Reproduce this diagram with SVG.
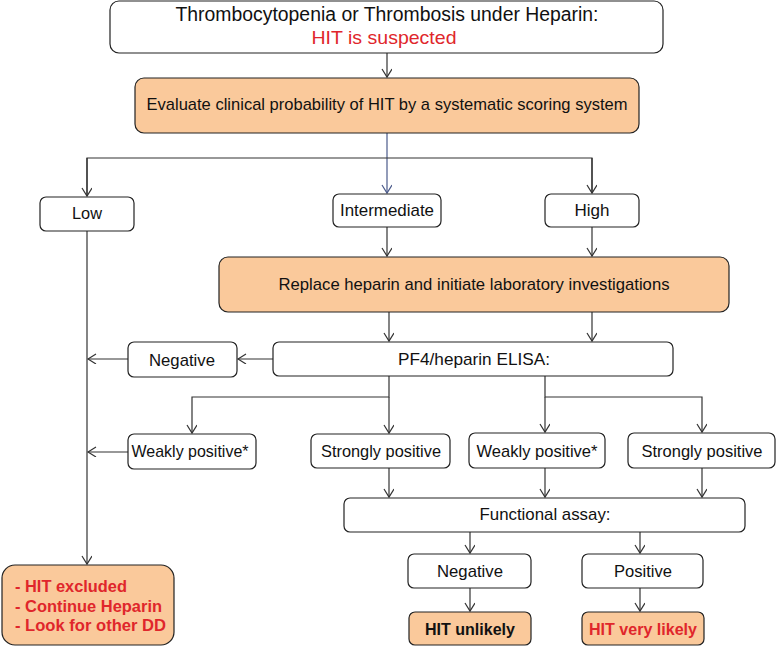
<svg xmlns="http://www.w3.org/2000/svg" width="777" height="646" viewBox="0 0 777 646">
<defs>
<marker id="arr" markerWidth="12" markerHeight="12" refX="9" refY="5" orient="auto" markerUnits="userSpaceOnUse">
<path d="M1,0 L9,5 L1,10" fill="none" stroke="#333" stroke-width="1.2"/>
</marker>
<marker id="arrb" markerWidth="12" markerHeight="12" refX="9" refY="5" orient="auto" markerUnits="userSpaceOnUse">
<path d="M1,0 L9,5 L1,10" fill="none" stroke="#4a5a8a" stroke-width="1.2"/>
</marker>
</defs>
<style>
.box{fill:#fff;stroke:#222;stroke-width:1.2}
.or{fill:#fac99b;stroke:#222;stroke-width:1.2}
.t{font-family:"Liberation Sans Narrow","Liberation Sans",Arial,sans-serif;font-size:17px;fill:#111;text-anchor:middle}
.red{fill:#e0262b}
.b{font-weight:bold;font-size:16.5px}
.c{fill:none;stroke:#333;stroke-width:1.2}
</style>
<rect width="777" height="646" fill="#fff"/>
<g id="connectors">
<path class="c" d="M387,53 V77" marker-end="url(#arr)"/>
<path d="M387,133 V193" fill="none" stroke="#4a5a8a" stroke-width="1.2" marker-end="url(#arrb)"/>
<path class="c" d="M87,196 V158 H592 V193"/>
<path class="c" d="M87,158 V196" marker-end="url(#arr)"/>
<path class="c" d="M592,158 V193" marker-end="url(#arr)"/>
<path class="c" d="M387,227 V256" marker-end="url(#arr)"/>
<path class="c" d="M592,227 V256" marker-end="url(#arr)"/>
<path class="c" d="M389,312 V341" marker-end="url(#arr)"/>
<path class="c" d="M592,312 V341" marker-end="url(#arr)"/>
<path class="c" d="M273,359 H238" marker-end="url(#arr)"/>
<path class="c" d="M128,359 H88" marker-end="url(#arr)"/>
<path class="c" d="M87,231 V564" marker-end="url(#arr)"/>
<path class="c" d="M389,376 V397 H192 V433" marker-end="url(#arr)"/>
<path class="c" d="M389,397 V433" marker-end="url(#arr)"/>
<path class="c" d="M545,376 V397 H702 V432" marker-end="url(#arr)"/>
<path class="c" d="M545,397 V432" marker-end="url(#arr)"/>
<path class="c" d="M128,452 H88" marker-end="url(#arr)"/>
<path class="c" d="M389,468 V497" marker-end="url(#arr)"/>
<path class="c" d="M545,468 V497" marker-end="url(#arr)"/>
<path class="c" d="M702,468 V497" marker-end="url(#arr)"/>
<path class="c" d="M470,532 V553" marker-end="url(#arr)"/>
<path class="c" d="M640,532 V553" marker-end="url(#arr)"/>
<path class="c" d="M470,588 V611" marker-end="url(#arr)"/>
<path class="c" d="M640,588 V611" marker-end="url(#arr)"/>
</g>
<g id="start">
<rect class="box" x="110" y="1" width="553" height="52" rx="9"/>
<text class="t" x="387" y="21" textLength="423" lengthAdjust="spacingAndGlyphs" style="font-size:20px">Thrombocytopenia or Thrombosis under Heparin:</text>
<text class="t red" x="384" y="44" textLength="145" lengthAdjust="spacingAndGlyphs" style="font-size:19px">HIT is suspected</text>
</g>
<g id="evaluate">
<rect class="or" x="135" y="78" width="504" height="55" rx="9"/>
<text class="t" x="387" y="110" textLength="481" lengthAdjust="spacingAndGlyphs">Evaluate clinical probability of HIT by a systematic scoring system</text>
</g>
<g id="low">
<rect class="box" x="40" y="197" width="94" height="34" rx="6"/>
<text class="t" x="87" y="219" textLength="30" lengthAdjust="spacingAndGlyphs">Low</text>
</g>
<g id="intermediate">
<rect class="box" x="333" y="194" width="108" height="33" rx="6"/>
<text class="t" x="387" y="216" textLength="94" lengthAdjust="spacingAndGlyphs">Intermediate</text>
</g>
<g id="high">
<rect class="box" x="545" y="194" width="94" height="33" rx="6"/>
<text class="t" x="592" y="216" textLength="35" lengthAdjust="spacingAndGlyphs">High</text>
</g>
<g id="replace">
<rect class="or" x="219" y="257" width="510" height="55" rx="9"/>
<text class="t" x="474" y="290" textLength="391" lengthAdjust="spacingAndGlyphs">Replace heparin and initiate laboratory investigations</text>
</g>
<g id="elisa">
<rect class="box" x="273" y="342" width="400" height="34" rx="6"/>
<text class="t" x="474" y="365" textLength="152" lengthAdjust="spacingAndGlyphs">PF4/heparin ELISA:</text>
</g>
<g id="negative1">
<rect class="box" x="128" y="342" width="109" height="35" rx="6"/>
<text class="t" x="182" y="366" textLength="66" lengthAdjust="spacingAndGlyphs">Negative</text>
</g>
<g id="weak1">
<rect class="box" x="128" y="434" width="128" height="35" rx="6"/>
<text class="t" x="190" y="457" textLength="117" lengthAdjust="spacingAndGlyphs">Weakly positive*</text>
</g>
<g id="strong1">
<rect class="box" x="311" y="434" width="139" height="34" rx="6"/>
<text class="t" x="381" y="457" textLength="120" lengthAdjust="spacingAndGlyphs">Strongly positive</text>
</g>
<g id="weak2">
<rect class="box" x="469" y="433" width="136" height="35" rx="6"/>
<text class="t" x="537" y="457" textLength="121" lengthAdjust="spacingAndGlyphs">Weakly positive*</text>
</g>
<g id="strong2">
<rect class="box" x="628" y="433" width="147" height="35" rx="6"/>
<text class="t" x="702" y="457" textLength="121" lengthAdjust="spacingAndGlyphs">Strongly positive</text>
</g>
<g id="functional">
<rect class="box" x="344" y="498" width="401" height="34" rx="6"/>
<text class="t" x="545" y="520" textLength="131" lengthAdjust="spacingAndGlyphs">Functional assay:</text>
</g>
<g id="negative2">
<rect class="box" x="408" y="554" width="123" height="34" rx="6"/>
<text class="t" x="470" y="577" textLength="66" lengthAdjust="spacingAndGlyphs">Negative</text>
</g>
<g id="positive">
<rect class="box" x="582" y="554" width="121" height="34" rx="6"/>
<text class="t" x="643" y="577" textLength="58" lengthAdjust="spacingAndGlyphs">Positive</text>
</g>
<g id="unlikely">
<rect class="or" x="409" y="612" width="122" height="33" rx="6"/>
<text class="t b" x="470" y="635" textLength="90" lengthAdjust="spacingAndGlyphs">HIT unlikely</text>
</g>
<g id="verylikely">
<rect class="or" x="582" y="612" width="122" height="33" rx="6"/>
<text class="t b red" x="643" y="635" textLength="108" lengthAdjust="spacingAndGlyphs">HIT very likely</text>
</g>
<g id="excluded">
<rect class="or" x="2" y="565" width="172" height="80" rx="13"/>
<text class="t b red" x="15" y="592" style="text-anchor:start" textLength="112" lengthAdjust="spacingAndGlyphs">- HIT excluded</text>
<text class="t b red" x="15" y="612" style="text-anchor:start" textLength="147" lengthAdjust="spacingAndGlyphs">- Continue Heparin</text>
<text class="t b red" x="15" y="631" style="text-anchor:start" textLength="151" lengthAdjust="spacingAndGlyphs">- Look for other DD</text>
</g>
</svg>
